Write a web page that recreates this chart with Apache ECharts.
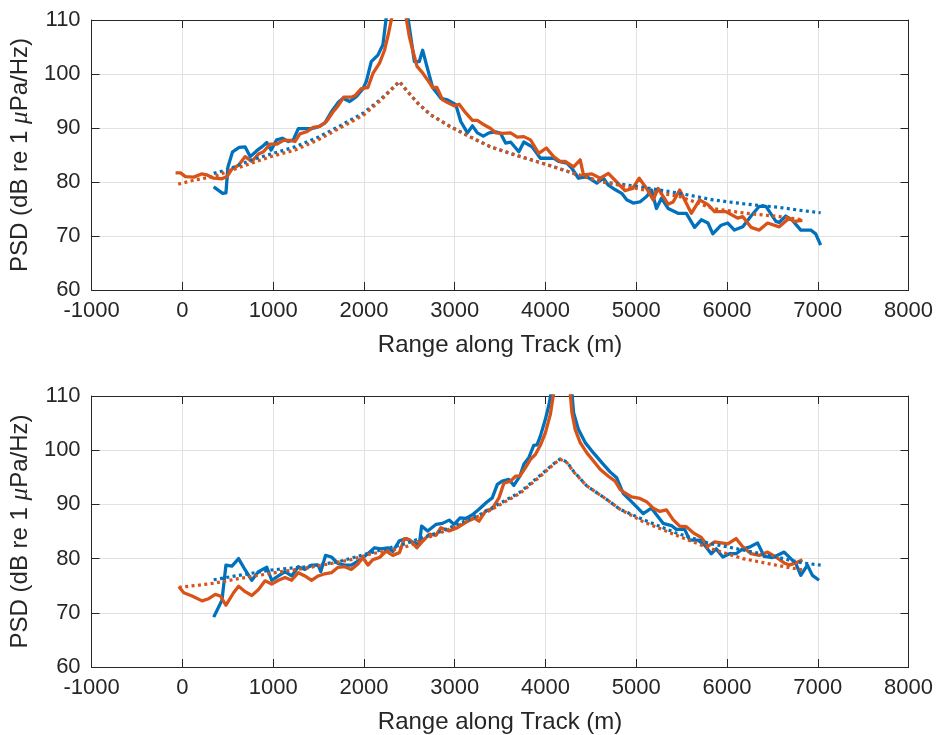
<!DOCTYPE html>
<html>
<head>
<meta charset="utf-8">
<script src="https://cdn.jsdelivr.net/npm/echarts@6/dist/echarts.min.js"></script>
<style>html,body{margin:0;padding:0;background:#fff}#c{width:936px;height:735px}</style>
</head>
<body>
<div id="c"></div>
<script>
// ---------- Tick labels / axis ranges ----------
const xTicks = [-1000, 0, 1000, 2000, 3000, 4000, 5000, 6000, 7000, 8000];
const yTicks = [60, 70, 80, 90, 100, 110];
const xTitle = 'Range along Track (m)';

// ---------- Top panel ----------
const topBlueRange = [345,444,480,502,553,626,692,747,820,875,930,977,1039,1101,1167,1222,1277,1350,1423,1496,1569,1642,1715,1770,1843,1916,1990,2026,2081,2154,2209,2250,2350,2480,2556,2610,2647,2694,2757,2848,2921,3013,3067,3141,3196,3250,3316,3378,3451,3506,3561,3616,3707,3762,3853,3944,4017,4090,4145,4237,4292,4364,4456,4566,4639,4693,4766,4840,4895,4967,5040,5114,5169,5223,5278,5351,5461,5552,5643,5717,5790,5844,5936,6009,6082,6174,6265,6356,6429,6539,6575,6648,6721,6813,6923,6977,7032];
const topBluePSD = [79.1,77.9,78.0,82.8,85.6,86.4,86.5,84.7,85.8,86.5,87.3,85.9,87.8,88.1,87.5,87.8,89.9,89.9,89.9,90.2,90.9,93.0,94.7,95.5,94.9,95.8,97.3,98.6,102.3,103.5,105.4,111,121,111,102.3,102.3,104.4,101.4,97.5,95.5,95.2,94.3,91.2,89.1,90.4,89.1,88.5,89.1,89.3,89.0,87.2,87.4,85.6,87.4,86.5,84.4,84.4,84.4,83.8,83.5,82.5,80.7,81.0,79.8,80.7,79.4,78.6,77.9,76.7,76.1,76.3,77.3,78.5,75.1,77.0,75.1,74.2,74.2,71.6,73.0,72.4,70.4,72.0,72.4,71.1,71.7,73.7,75.5,75.5,72.7,72.5,73.7,72.9,71.1,71.1,70.4,68.3];

const topOrangeRange = [-75,-20,34,126,210,272,345,436,491,546,619,692,765,839,893,966,1039,1113,1186,1240,1295,1368,1441,1514,1587,1661,1715,1777,1861,1904,1971,2044,2099,2172,2227,2271,2307,2400,2464,2501,2538,2585,2647,2702,2757,2804,2867,2921,2994,3049,3122,3196,3250,3323,3396,3451,3524,3616,3689,3762,3835,3926,4010,4090,4164,4218,4310,4383,4419,4511,4603,4693,4785,4876,4960,5033,5114,5187,5241,5351,5406,5479,5607,5698,5790,5863,5991,6118,6173,6265,6356,6447,6575,6685,6740,6831];
const topOrangePSD = [81.7,81.7,81.0,80.9,81.5,81.3,80.7,80.6,81.0,82.4,83.1,84.7,83.8,85.2,85.6,87.0,87.0,87.7,87.7,87.5,88.9,89.3,90.1,90.3,91.2,93.0,94.1,95.7,95.7,96.0,97.3,97.5,100.1,102.0,104.4,107.5,110.5,122,110.5,106.9,104.4,101.4,100.2,98.9,97.5,97.5,95.2,94.7,94.1,94.4,92.8,91.4,91.4,90.6,89.9,89.1,89.0,89.1,88.3,88.4,87.8,85.3,86.3,84.7,83.8,83.8,82.8,84.1,81.3,81.5,80.7,81.6,80.0,78.4,78.8,80.7,78.8,76.7,78.8,75.9,76.3,78.5,74.2,76.7,75.8,74.5,74.5,73.3,73.6,71.6,71.1,72.4,71.7,73.3,72.7,72.9];

const topBlueModelRange = [345,500,765,1000,1240,1496,1715,1997,2190,2391,2483,2593,2738,2958,3177,3396,3725,3999,4310,4602,5004,5479,5844,6210,6575,6831,7032];
const topBlueModelPSD = [81.6,82.3,84.1,85.3,86.5,88.3,90.2,92.8,95.4,98.6,96.7,94.6,92.4,90.2,88.3,86.5,84.7,83.3,81.6,80.1,79.2,77.9,76.7,75.9,75.3,74.7,74.3];

const topOrangeModelRange = [-46,144,345,546,765,995,1240,1496,1715,1997,2190,2391,2483,2593,2738,2958,3177,3396,3725,3999,4310,4602,5004,5479,5844,6210,6575,6831];
const topOrangeModelPSD = [79.6,80.4,81.0,82.2,83.5,84.8,85.9,87.8,89.8,92.4,95.2,98.6,96.7,94.6,92.4,90.2,88.3,86.5,84.7,83.3,81.6,80.1,78.8,77.3,75.1,74.2,73.6,73.0];

// ---------- Bottom panel ----------
const botBlueRange = [345,436,480,546,619,692,765,839,930,984,1058,1131,1204,1277,1350,1423,1496,1525,1577,1642,1715,1788,1861,1953,2044,2117,2190,2263,2318,2391,2464,2556,2610,2636,2702,2793,2866,2939,2994,3060,3122,3196,3268,3352,3414,3470,3524,3597,3652,3718,3762,3816,3871,3907,3944,3999,4036,4062,4200,4292,4310,4364,4438,4529,4621,4712,4785,4858,4967,5077,5168,5296,5388,5442,5534,5589,5680,5753,5826,5881,5954,6027,6100,6173,6246,6337,6410,6502,6557,6630,6703,6758,6813,6886,6941,7014];
const botBluePSD = [69.2,72.3,78.8,78.6,80.0,77.9,76.0,77.6,78.4,76.0,76.8,77.6,76.8,78.5,78.0,78.8,78.8,77.6,80.6,80.3,79.1,78.8,78.8,79.7,80.9,82.0,81.8,82.0,81.3,83.3,83.7,82.9,82.6,86.0,85.1,86.3,86.5,87.1,86.3,87.5,87.4,88.1,89.1,90.4,91.2,93.7,94.3,94.6,93.5,95.2,97.4,98.6,100.9,101.0,102.6,105.7,108.2,110.5,122,110.5,106.9,103.8,101.4,99.5,97.7,96.0,94.9,92.0,90.2,88.3,89.3,86.5,86.1,85.4,85.4,83.4,83.4,82.5,80.9,81.8,80.3,80.9,80.9,81.8,82.1,82.9,80.4,80.2,80.6,81.2,80.0,79.1,76.9,78.8,76.9,76.0];

const botOrangeRange = [-39,16,107,217,290,363,418,480,564,619,692,765,839,911,984,1058,1131,1204,1277,1350,1423,1496,1569,1642,1715,1788,1861,1934,1989,2044,2099,2172,2245,2318,2391,2446,2501,2585,2647,2720,2793,2848,2939,3031,3122,3213,3268,3341,3414,3488,3542,3615,3670,3718,3780,3835,3889,3944,3999,4054,4090,4190,4273,4292,4328,4383,4456,4529,4602,4693,4767,4821,4858,4949,5040,5114,5187,5260,5333,5406,5479,5552,5625,5717,5790,5863,5936,6009,6100,6173,6265,6356,6447,6538,6630,6685,6758,6831];
const botOrangePSD = [74.8,73.7,73.1,72.2,72.6,73.4,73.1,71.4,73.7,74.9,73.9,73.2,74.3,75.9,75.3,76.0,76.5,76.0,77.4,76.8,76.0,76.8,77.2,77.4,78.4,78.5,78.0,79.0,80.2,78.8,79.8,80.2,81.4,80.6,81.1,83.7,83.5,82.0,83.2,84.5,84.3,85.7,85.1,85.7,86.7,87.5,86.9,88.8,89.2,91.2,93.9,94.3,95.2,95.2,96.8,98.3,99.2,100.9,103.2,106.6,110.5,122,110.5,106.9,103.8,101.4,99.5,98.0,96.5,95.2,94.3,92.8,92.3,91.4,91.1,90.5,89.3,88.7,89.0,87.2,86.0,85.9,84.8,83.9,82.3,83.1,82.9,82.7,83.7,82.2,80.9,80.6,81.2,80.3,79.2,78.8,79.2,79.8];

const botBlueModelRange = [345,619,984,1350,1715,2081,2446,2848,3287,3725,3944,4090,4164,4237,4310,4456,4676,4821,5077,5442,5808,6173,6539,6831,7032];
const botBlueModelPSD = [76.1,76.9,77.9,78.5,79.4,81.1,82.7,85.0,88.2,92.3,95.4,97.5,98.4,97.8,96.1,93.4,90.9,89.1,87.2,84.7,82.8,81.6,80.3,79.2,78.8];

const botOrangeModelRange = [-39,181,363,619,839,1094,1350,1606,1861,2081,2300,2483,2647,2848,3067,3287,3506,3725,3944,4090,4164,4237,4310,4456,4676,4821,5077,5442,5808,6173,6539,6831];
const botOrangeModelPSD = [74.7,75.1,75.5,76.3,76.9,77.6,78.2,79.0,79.8,80.9,81.5,82.3,83.5,84.8,86.3,88.0,90.0,92.1,95.2,97.4,98.3,97.7,96.0,93.4,90.9,89.1,86.8,84.3,81.9,80.0,78.8,77.9];

// ---------- Build chart ----------
const BLUE = '#0072BD', ORANGE = '#D95319', AX = '#262626', GRIDC = '#e2e2e2';
const FONT = 'Liberation Sans, Arial, Helvetica, sans-serif';
const pairs = (xs, ys) => xs.map((x, i) => [x, ys[i]]);
const plain = v => String(v);

const grids = [
  {left: 89, right: 26, top: 20, height: 270},
  {left: 89, right: 26, top: 396, height: 271}
];

function xAxes(gi) {
  return [
    {
      type: 'value', gridIndex: gi, position: 'bottom',
      min: xTicks[0], max: xTicks[xTicks.length - 1], interval: xTicks[1] - xTicks[0],
      name: xTitle, nameLocation: 'middle', nameGap: 43,
      nameTextStyle: {fontFamily: FONT, fontSize: 24, color: AX},
      axisLine: {show: true, onZero: false, lineStyle: {color: AX, width: 1}},
      axisTick: {show: true, inside: true, length: 8, lineStyle: {color: AX}},
      axisLabel: {fontFamily: FONT, fontSize: 22, color: AX, margin: 10, showMinLabel: true, showMaxLabel: true, formatter: plain},
      splitLine: {show: true, lineStyle: {color: GRIDC, width: 1}}
    },
    {
      type: 'value', gridIndex: gi, position: 'top',
      min: xTicks[0], max: xTicks[xTicks.length - 1], interval: xTicks[1] - xTicks[0],
      axisLine: {show: true, onZero: false, lineStyle: {color: AX, width: 1}},
      axisTick: {show: true, inside: true, length: 8, lineStyle: {color: AX}},
      axisLabel: {show: false}, splitLine: {show: false}
    }
  ];
}
function yAxes(gi) {
  return [
    {
      type: 'value', gridIndex: gi, position: 'left',
      min: yTicks[0], max: yTicks[yTicks.length - 1], interval: yTicks[1] - yTicks[0],
      name: '{a|PSD (dB re 1 }{m|μ}{a|Pa/Hz)}', nameLocation: 'middle', nameGap: 48, nameRotate: 90,
      nameTextStyle: {
        fontFamily: FONT, fontSize: 24, color: AX,
        rich: {
          a: {fontFamily: FONT, fontSize: 24, color: AX},
          m: {fontFamily: 'Liberation Serif, DejaVu Serif, serif', fontStyle: 'italic', fontSize: 25, color: AX}
        }
      },
      axisLine: {show: true, onZero: false, lineStyle: {color: AX, width: 1}},
      axisTick: {show: true, inside: true, length: 8, lineStyle: {color: AX}},
      axisLabel: {fontFamily: FONT, fontSize: 22, color: AX, margin: 11, formatter: plain},
      splitLine: {show: true, lineStyle: {color: GRIDC, width: 1}}
    },
    {
      type: 'value', gridIndex: gi, position: 'right',
      min: yTicks[0], max: yTicks[yTicks.length - 1], interval: yTicks[1] - yTicks[0],
      axisLine: {show: true, onZero: false, lineStyle: {color: AX, width: 1}},
      axisTick: {show: true, inside: true, length: 8, lineStyle: {color: AX}},
      axisLabel: {show: false}, splitLine: {show: false}
    }
  ];
}

function line(gi, xs, ys, color, dotted) {
  return {
    type: 'line', xAxisIndex: gi * 2, yAxisIndex: gi * 2,
    data: pairs(xs, ys), showSymbol: false, symbol: 'none', clip: true,
    lineStyle: dotted
      ? {color: color, width: 3.2, type: [3, 3.4], cap: 'butt'}
      : {color: color, width: 3.3, join: 'round'},
    z: dotted ? 3 : 2, animation: false
  };
}

const option = {
  animation: false,
  backgroundColor: '#ffffff',
  grid: grids,
  xAxis: [...xAxes(0), ...xAxes(1)],
  yAxis: [...yAxes(0), ...yAxes(1)],
  series: [
    line(0, topBlueRange, topBluePSD, BLUE, false),
    line(0, topOrangeRange, topOrangePSD, ORANGE, false),
    line(0, topBlueModelRange, topBlueModelPSD, BLUE, true),
    line(0, topOrangeModelRange, topOrangeModelPSD, ORANGE, true),
    line(1, botBlueRange, botBluePSD, BLUE, false),
    line(1, botOrangeRange, botOrangePSD, ORANGE, false),
    line(1, botBlueModelRange, botBlueModelPSD, BLUE, true),
    line(1, botOrangeModelRange, botOrangeModelPSD, ORANGE, true)
  ]
};

const chart = echarts.init(document.getElementById('c'), null, {renderer: 'canvas'});
chart.setOption(option);
</script>
</body>
</html>
